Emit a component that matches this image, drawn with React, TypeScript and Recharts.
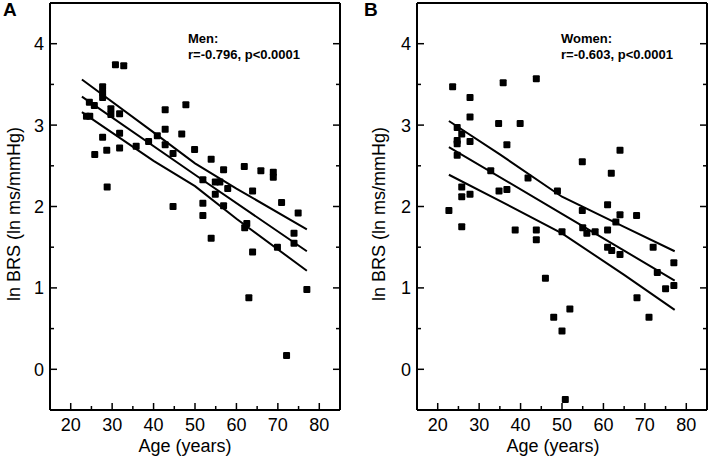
import { ComposedChart, Scatter, XAxis, YAxis } from "recharts";

const ageTicks = [20, 25, 30, 35, 40, 45, 50, 55, 60, 65, 70, 75, 80];
const brsTicks = [0, 0.5, 1, 1.5, 2, 2.5, 3, 3.5, 4];

// [age, ln BRS]
const menValues = [
  [30.8, 3.74], [32.8, 3.73], [27.7, 3.47], [27.7, 3.4], [27.7, 3.34],
  [24.5, 3.28], [25.7, 3.24], [23.8, 3.11], [24.6, 3.11], [29.7, 3.2],
  [29.7, 3.13], [31.8, 3.14], [27.7, 2.85], [25.8, 2.64], [28.7, 2.69],
  [31.8, 2.9], [31.8, 2.72], [28.8, 2.24], [35.8, 2.74], [38.8, 2.8],
  [40.9, 2.87], [42.8, 3.19], [42.8, 2.95], [42.8, 2.76], [44.7, 2.65],
  [46.8, 2.89], [47.8, 3.25], [44.7, 2.0], [49.9, 2.7], [53.9, 2.58],
  [51.9, 2.33], [51.9, 2.04], [51.9, 1.89], [54.9, 2.3], [56.0, 2.3],
  [54.9, 2.15], [56.9, 2.45], [57.9, 2.22], [56.9, 2.01], [61.9, 2.49],
  [63.9, 2.19], [65.9, 2.44], [68.9, 2.42], [68.9, 2.36], [70.9, 2.05],
  [74.9, 1.92], [62.0, 1.74], [62.5, 1.79], [53.9, 1.61], [63.9, 1.44],
  [69.9, 1.5], [73.9, 1.55], [73.9, 1.67], [63.0, 0.88], [77.0, 0.98],
  [72.1, 0.17],
];

const womenValues = [
  [22.7, 1.95], [23.6, 3.47], [24.7, 2.97], [25.8, 2.89], [24.7, 2.81],
  [24.7, 2.77], [24.7, 2.63], [25.8, 2.24], [25.8, 2.12], [25.8, 1.75],
  [27.8, 3.34], [27.8, 3.1], [27.8, 2.8], [27.8, 2.15], [32.8, 2.44],
  [34.7, 3.02], [34.8, 2.19], [35.8, 3.52], [36.7, 2.76], [36.7, 2.21],
  [38.7, 1.71], [39.9, 3.02], [41.8, 2.35], [43.8, 3.57], [43.8, 1.71],
  [43.8, 1.59], [46.0, 1.12], [48.0, 0.64], [48.9, 2.19], [50.0, 1.69],
  [50.0, 0.47], [50.8, -0.37], [51.9, 0.74], [54.9, 2.55], [54.9, 1.95],
  [55.0, 1.74], [56.0, 1.67], [58.0, 1.69], [61.0, 2.02], [61.0, 1.71],
  [61.0, 1.5], [61.9, 2.41], [62.0, 1.46], [63.0, 1.81], [64.0, 2.69],
  [64.0, 1.9], [64.0, 1.41], [68.0, 1.89], [68.1, 0.88], [71.0, 0.64],
  [72.0, 1.5], [73.0, 1.19], [75.0, 0.99], [77.0, 1.31], [77.0, 1.03],
];

// regression line and 95% bands
const menFit = [[22.7, 3.35], [50, 2.39], [77, 1.45]];
const menUpper = [[22.7, 3.56], [40, 2.91], [50, 2.53], [60, 2.22], [77, 1.72]];
const menLower = [[22.7, 3.16], [40, 2.56], [50, 2.25], [60, 1.85], [77, 1.21]];

const womenFit = [[22.7, 2.73], [50, 1.91], [77.2, 1.09]];
const womenUpper = [[22.7, 3.05], [35, 2.64], [50, 2.12], [65, 1.75], [77.2, 1.45]];
const womenLower = [[22.7, 2.39], [35, 2.07], [50, 1.67], [65, 1.16], [77.2, 0.73]];

const toRows = (pairs: number[][]) => pairs.map(([age, brs]) => ({ age, brs }));

const FONT = "'Liberation Sans', Arial, Helvetica, sans-serif";
const lineStyle = { stroke: "#000", strokeWidth: 2 };

const Square = (p: any) => (
  <rect x={p.cx - 3.5} y={p.cy - 3.5} width={7} height={7} rx={1} fill="#000" />
);
const NoShape = () => <g />;

const BottomTick = ({ x, y, payload }: any) => {
  const major = payload.value % 10 === 0;
  return (
    <g>
      <line x1={x} x2={x} y1={y} y2={y - (major ? 7 : 4)} stroke="#000" strokeWidth={1.5} />
      {major && (
        <text x={x} y={y + 21} textAnchor="middle" fontSize={18} fill="#000" fontFamily={FONT}>
          {payload.value}
        </text>
      )}
    </g>
  );
};

const TopTick = ({ x, y, payload }: any) => {
  const major = payload.value % 10 === 0;
  return <line x1={x} x2={x} y1={y} y2={y + (major ? 6 : 4)} stroke="#000" strokeWidth={1.5} />;
};

const LeftTick = ({ x, y, payload }: any) => {
  const major = Number.isInteger(payload.value);
  return (
    <g>
      <line x1={x} x2={x + (major ? 7 : 4)} y1={y} y2={y} stroke="#000" strokeWidth={1.5} />
      {major && (
        <text x={x - 6} y={y} dy="0.36em" textAnchor="end" fontSize={18} fill="#000" fontFamily={FONT}>
          {payload.value}
        </text>
      )}
    </g>
  );
};

const RightTick = ({ x, y, payload }: any) => {
  const major = Number.isInteger(payload.value);
  return <line x1={x} x2={x - (major ? 7 : 4)} y1={y} y2={y} stroke="#000" strokeWidth={1.5} />;
};

interface PanelProps {
  letter: string;
  group: string;
  stats: string;
  points: number[][];
  fit: number[][];
  upper: number[][];
  lower: number[][];
  left: number;
  width: number;
  marginLeft: number;
  marginRight: number;
  letterX: number;
  noteX: number;
  yLabelX: number;
  xLabelX: number;
}

function Panel(props: PanelProps) {
  const axisLine = { stroke: "#000", strokeWidth: 2 };
  return (
    <div style={{ position: "absolute", left: props.left, top: 0 }}>
      <ComposedChart
        width={props.width}
        height={460}
        margin={{ top: 2, right: props.marginRight, bottom: 49, left: props.marginLeft }}
        style={{ fontFamily: FONT }}
      >
        <XAxis
          dataKey="age"
          type="number"
          domain={[15, 85]}
          ticks={ageTicks}
          interval={0}
          height={1}
          tickSize={0}
          tickMargin={0}
          tickLine={false}
          tick={<BottomTick />}
          axisLine={axisLine}
          allowDataOverflow
        />
        <XAxis
          xAxisId="top"
          orientation="top"
          type="number"
          domain={[15, 85]}
          ticks={ageTicks}
          interval={0}
          height={1}
          tickSize={0}
          tickMargin={0}
          tickLine={false}
          tick={<TopTick />}
          axisLine={axisLine}
          allowDataOverflow
        />
        <YAxis
          dataKey="brs"
          type="number"
          domain={[-0.5, 4.5]}
          ticks={brsTicks}
          interval={0}
          width={1}
          tickSize={0}
          tickMargin={0}
          tickLine={false}
          tick={<LeftTick />}
          axisLine={axisLine}
          allowDataOverflow
        />
        <YAxis
          yAxisId="right"
          orientation="right"
          type="number"
          domain={[-0.5, 4.5]}
          ticks={brsTicks}
          interval={0}
          width={1}
          tickSize={0}
          tickMargin={0}
          tickLine={false}
          tick={<RightTick />}
          axisLine={axisLine}
          allowDataOverflow
        />
        <Scatter data={toRows(props.upper)} line={lineStyle} shape={<NoShape />} isAnimationActive={false} />
        <Scatter data={toRows(props.fit)} line={lineStyle} shape={<NoShape />} isAnimationActive={false} />
        <Scatter data={toRows(props.lower)} line={lineStyle} shape={<NoShape />} isAnimationActive={false} />
        <Scatter data={toRows(props.points)} shape={<Square />} isAnimationActive={false} />
        <text x={props.letterX} y={16} fontSize={19} fontWeight="bold" fill="#000" fontFamily={FONT}>
          {props.letter}
        </text>
        <text x={props.noteX} y={43} fontSize={13} fontWeight="bold" fill="#000" fontFamily={FONT}>
          {props.group}
        </text>
        <text x={props.noteX} y={59} fontSize={13} fontWeight="bold" fill="#000" fontFamily={FONT}>
          {props.stats}
        </text>
        <text
          x={props.yLabelX}
          y={214}
          transform={`rotate(-90 ${props.yLabelX} 214)`}
          textAnchor="middle"
          fontSize={18}
          fill="#000"
          fontFamily={FONT}
        >
          ln BRS (ln ms/mmHg)
        </text>
        <text x={props.xLabelX} y={452} textAnchor="middle" fontSize={18} fill="#000" fontFamily={FONT}>
          Age (years)
        </text>
      </ComposedChart>
    </div>
  );
}

export default function App() {
  return (
    <div style={{ position: "absolute", left: 0, top: 0, width: 709, height: 460, background: "#fff" }}>
      <Panel
        letter="A"
        group="Men:"
        stats="r=-0.796, p<0.0001"
        points={menValues}
        fit={menFit}
        upper={menUpper}
        lower={menLower}
        left={0}
        width={354}
        marginLeft={49}
        marginRight={13}
        letterX={3}
        noteX={188}
        yLabelX={20}
        xLabelX={185}
      />
      <Panel
        letter="B"
        group="Women:"
        stats="r=-0.603, p<0.0001"
        points={womenValues}
        fit={womenFit}
        upper={womenUpper}
        lower={womenLower}
        left={354}
        width={355}
        marginLeft={62}
        marginRight={1}
        letterX={10}
        noteX={207}
        yLabelX={31}
        xLabelX={199}
      />
    </div>
  );
}
